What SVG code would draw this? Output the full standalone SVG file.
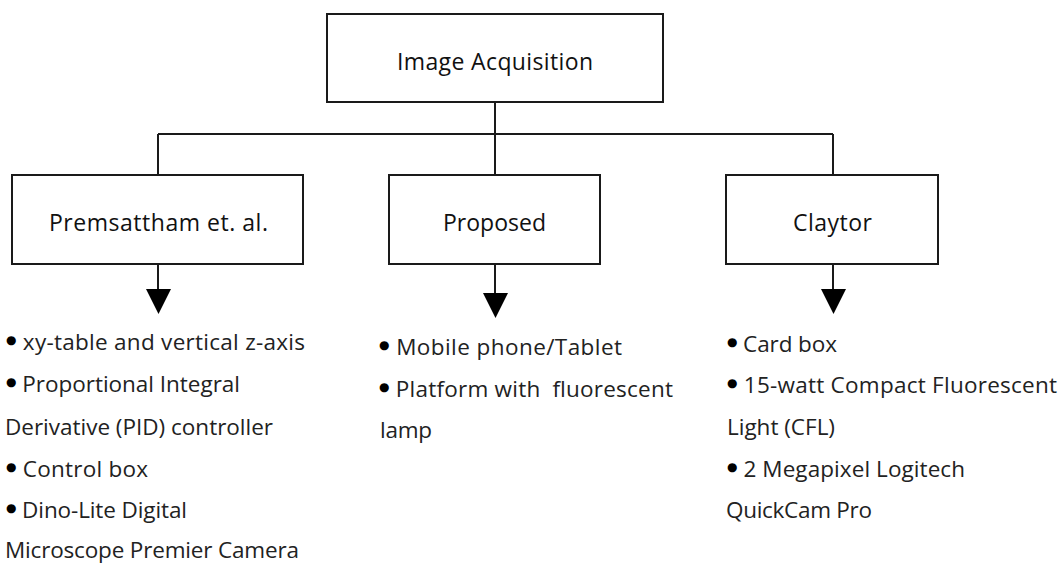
<svg xmlns="http://www.w3.org/2000/svg" width="1061" height="564" viewBox="0 0 1061 564">
  <style>
    .box { fill: #ffffff; stroke: #1a1a1a; stroke-width: 2; }
    .wire { fill: none; stroke: #1a1a1a; stroke-width: 2; }
    .head { fill: #000000; stroke: none; }
    .title { font-family: "Open Sans", "Noto Sans", sans-serif; font-size: 23px; fill: #111111; }
    .item { font-family: "Open Sans", "Noto Sans", sans-serif; font-size: 22.5px; fill: #222222; }
    .dot { font-family: "DejaVu Sans", sans-serif; font-size: 12px; fill: #000000; }
  </style>

  <rect width="1061" height="564" fill="#ffffff"/>

  <!-- tree connectors and downward arrows -->
  <g id="connectors">
    <path class="wire" d="M495 102 V134 M158 134 H833 M158 134 V175 M495 134 V175 M833 134 V175"/>
    <path class="wire" d="M158 264 V292 M495 264 V296 M833 264 V292"/>
    <polygon class="head" points="146,289 171,289 158.5,314"/>
    <polygon class="head" points="483,293 508,293 495.5,318"/>
    <polygon class="head" points="821,289 846,289 833.5,314"/>
  </g>

  <g id="root">
    <rect class="box" x="327" y="14" width="336" height="88"/>
    <text class="title" x="397" y="70" textLength="196">Image Acquisition</text>
  </g>

  <g id="premsattham">
    <rect class="box" x="12" y="175" width="291" height="89"/>
    <text class="title" x="49" y="231" textLength="219">Premsattham et. al.</text>
  </g>

  <g id="proposed">
    <rect class="box" x="389" y="175" width="211" height="89"/>
    <text class="title" x="443" y="231" textLength="103">Proposed</text>
  </g>

  <g id="claytor">
    <rect class="box" x="726" y="175" width="212" height="89"/>
    <text class="title" x="793" y="231" textLength="79">Claytor</text>
  </g>

  <!-- item lists under each branch; bullets raised to mid x-height -->
  <g id="premsattham-items">
    <text class="item" x="6" y="350" textLength="299"><tspan class="dot" dy="-6">●</tspan><tspan dy="6"> xy-table and vertical z-axis</tspan></text>
    <text class="item" x="6" y="392" textLength="234"><tspan class="dot" dy="-6">●</tspan><tspan dy="6"> Proportional Integral</tspan></text>
    <text class="item" x="5" y="435" textLength="268">Derivative (PID) controller</text>
    <text class="item" x="6" y="477" textLength="142"><tspan class="dot" dy="-6">●</tspan><tspan dy="6"> Control box</tspan></text>
    <text class="item" x="6" y="518" textLength="181"><tspan class="dot" dy="-6">●</tspan><tspan dy="6"> Dino-Lite Digital</tspan></text>
    <text class="item" x="5" y="558" textLength="294">Microscope Premier Camera</text>
  </g>

  <g id="proposed-items">
    <text class="item" x="379" y="355" textLength="243"><tspan class="dot" dy="-6">●</tspan><tspan dy="6"> Mobile phone/Tablet</tspan></text>
    <text class="item" x="379" y="397" textLength="294" xml:space="preserve"><tspan class="dot" dy="-6">●</tspan><tspan dy="6"> Platform with  fluorescent</tspan></text>
    <text class="item" x="380" y="438" textLength="52">lamp</text>
  </g>

  <g id="claytor-items">
    <text class="item" x="727" y="352" textLength="110"><tspan class="dot" dy="-6">●</tspan><tspan dy="6"> Card box</tspan></text>
    <text class="item" x="727" y="393" textLength="330"><tspan class="dot" dy="-6">●</tspan><tspan dy="6"> 15-watt Compact Fluorescent</tspan></text>
    <text class="item" x="727" y="435" textLength="108">Light (CFL)</text>
    <text class="item" x="727" y="477" textLength="238"><tspan class="dot" dy="-6">●</tspan><tspan dy="6"> 2 Megapixel Logitech</tspan></text>
    <text class="item" x="726" y="518" textLength="146">QuickCam Pro</text>
  </g>
</svg>
